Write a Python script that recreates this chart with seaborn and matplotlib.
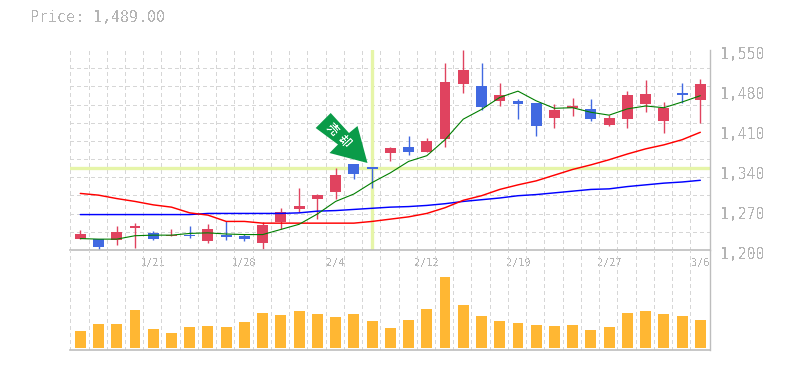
import numpy as np
import pandas as pd
import matplotlib
matplotlib.use('Agg')
import matplotlib.pyplot as plt
import seaborn as sns
from matplotlib.patches import Polygon
from matplotlib.transforms import ScaledTranslation

# Daily candles
candle_up = [1, 0, 1, 1, 0, 1, 0, 1, 0, 0, 1, 1, 1, 1, 1, 0, 0, 1, 0, 1, 1, 1, 0, 1, 0, 0, 1, 1, 0, 1, 1, 1, 1, 0, 1]
body_top = [1228, 1219, 1232, 1242, 1230, 1226, 1226, 1237, 1226, 1225, 1244, 1267, 1277, 1296, 1331, 1351, 1345,
            1379, 1380, 1391, 1494, 1515, 1487, 1471, 1461, 1457, 1445, 1452, 1447, 1431, 1471, 1473, 1449, 1475, 1491]
body_bottom = [1219, 1205, 1218, 1239, 1219, 1225, 1225, 1216, 1223, 1219, 1212, 1249, 1272, 1289, 1302, 1333, 1342,
               1370, 1372, 1372, 1394, 1491, 1450, 1461, 1456, 1417, 1431, 1449, 1429, 1419, 1429, 1456, 1426, 1471, 1462]
wick_top = [1235, 1219, 1242, 1247, 1233, 1237, 1242, 1246, 1250, 1228, 1249, 1274, 1309, 1298, 1344, 1351, 1345,
            1380, 1400, 1396, 1527, 1550, 1527, 1492, 1464, 1457, 1456, 1466, 1464, 1436, 1478, 1498, 1459, 1492, 1499]
wick_bottom = [1219, 1199, 1209, 1204, 1218, 1225, 1221, 1212, 1218, 1216, 1202, 1237, 1267, 1254, 1289, 1324, 1309,
               1356, 1366, 1372, 1380, 1475, 1445, 1452, 1429, 1400, 1414, 1435, 1426, 1417, 1414, 1442, 1405, 1457, 1422]

# Moving averages
ma_short = [1220, 1219, 1219, 1225, 1226, 1226, 1229, 1230, 1228, 1227, 1227, 1236, 1245, 1263, 1285, 1298, 1318,
            1335, 1355, 1365, 1393, 1429, 1446, 1467, 1478, 1461, 1448, 1449, 1441, 1436, 1447, 1452, 1449, 1459, 1470]
ma_mid = [1299, 1296, 1290, 1285, 1279, 1275, 1265, 1261, 1250, 1250, 1247, 1247, 1247, 1247, 1247, 1247, 1250,
          1254, 1258, 1264, 1274, 1287, 1295, 1306, 1314, 1321, 1331, 1341, 1349, 1358, 1368, 1377, 1384, 1393, 1406]
ma_long = [1262, 1262, 1262, 1262, 1262, 1262, 1262, 1264, 1264, 1264, 1264, 1264, 1265, 1268, 1269, 1271, 1273,
           1275, 1276, 1278, 1281, 1285, 1288, 1291, 1295, 1297, 1300, 1303, 1306, 1307, 1311, 1314, 1317, 1319, 1322]

# Volume
volume = [17, 24, 24, 38, 19, 15, 21, 22, 21, 26, 35, 33, 37, 34, 31, 34, 27,
          20, 28, 39, 71, 43, 32, 27, 25, 23, 22, 23, 18, 21, 35, 37, 34, 32, 28]

date_pos = [4, 9, 14, 19, 24, 29, 34]
date_labels = ['1/21', '1/28', '2/4', '2/12', '2/19', '2/27', '3/6']
price_ticks = [1200, 1270, 1340, 1410, 1480, 1550]
price_labels = ['1,200', '1,270', '1,340', '1,410', '1,480', '1,550']
cross_day = 16
cross_price = 1343
title_text = 'Price: 1,489.00'
arrow_chars = ['売', '却']

RED = '#E0435F'
BLUE = '#4169E1'
ORANGE = '#FFB733'
CROSS = '#E6F5A8'
GRID = '#D6D6D6'
BORDER = '#BDBDBD'
TEXT = '#B4B4B4'

sns.set_style('white')
plt.rcParams['font.family'] = ['DejaVu Sans Mono']
plt.rcParams['text.antialiased'] = False

W, H = 785, 370
fig = plt.figure(figsize=(W / 100, H / 100), dpi=100, facecolor='white')


def px_box(x0, y0, x1, y1):
    return [x0 / W, 1 - y1 / H, (x1 - x0) / W, (y1 - y0) / H]


ax = fig.add_axes(px_box(70, 50, 710, 250))
ax_vol = fig.add_axes(px_box(70, 250, 710, 350))

dias = np.arange(len(volume))
xlim = (-0.565, 34.53)
grid_x = dias - 0.55

dados = pd.DataFrame({'dia': dias, 'curta': ma_short, 'media': ma_mid, 'longa': ma_long, 'volume': volume})

# Price panel
for a in (ax, ax_vol):
    a.set_xlim(xlim)
    a.set_xticks(grid_x, minor=True)
    a.grid(True, which='minor', axis='x', color=GRID, linestyle=(0, (3, 3)), linewidth=0.8, antialiased=False)
    a.grid(False, which='major')
    a.set_axisbelow(True)
    a.patch.set_alpha(0)
    for lado in ['top', 'left']:
        a.spines[lado].set_visible(False)
    a.spines['right'].set_color(BORDER)
    a.spines['bottom'].set_color(BORDER)
    a.spines['right'].set_linewidth(1.0)
    a.spines['bottom'].set_linewidth(1.2)

ax.set_ylim(1200, 1550)
ax.set_yticks(np.linspace(1200, 1550, 12), minor=True)
ax.grid(True, which='minor', axis='y', color=GRID, linestyle=(0, (3, 3)), linewidth=0.8, antialiased=False)
ax.axhline(cross_price, color=CROSS, linewidth=2.4, zorder=1)
ax.axvline(cross_day, ymin=0.005, color=CROSS, linewidth=2.4, zorder=1)

cores = [RED if u else BLUE for u in candle_up]
ax.vlines(dias, wick_bottom, wick_top, colors=cores, linewidth=1.0, zorder=2)
ax.bar(dias, np.array(body_top) - np.array(body_bottom), bottom=body_bottom, width=0.6, color=cores,
       linewidth=0, zorder=3)

sns.lineplot(data=dados, x='dia', y='longa', ax=ax, color='#0000FF', linewidth=1.05, zorder=4)
sns.lineplot(data=dados, x='dia', y='media', ax=ax, color='#FF0000', linewidth=1.05, zorder=4)
sns.lineplot(data=dados, x='dia', y='curta', ax=ax, color='#007F00', linewidth=0.8, zorder=4)

ax.set_xlabel('')
ax.set_ylabel('')
ax.set_xticks(date_pos, date_labels)
ax.tick_params(axis='x', which='major', length=0, pad=6, labelsize=7.4, labelcolor=TEXT)
ax.tick_params(axis='both', which='minor', length=0)
ax.yaxis.tick_right()
ax.set_yticks(price_ticks, price_labels)
ax.tick_params(axis='y', which='major', length=0, pad=7, labelsize=10.6, labelcolor=TEXT)
for lab in ax.get_yticklabels():
    lab.set_transform(lab.get_transform() + ScaledTranslation(0, -2.5 / 72, fig.dpi_scale_trans))
ax.set_xlim(xlim)

# Volume panel
sns.barplot(data=dados, x='dia', y='volume', ax=ax_vol, native_scale=True, color=ORANGE, width=0.6,
            saturation=1, linewidth=0, zorder=3)
ax_vol.set_xlim(xlim)
ax_vol.set_ylim(-2, 98)
ax_vol.set_xlabel('')
ax_vol.set_ylabel('')
ax_vol.set_yticks([])
ax_vol.set_xticks([])
ax_vol.set_xticks(grid_x, minor=True)
ax_vol.tick_params(axis='x', which='minor', length=0)

fig.text(30 / W, 1 - 18 / H, title_text, color=TEXT, fontsize=10.8, va='center', ha='left')

# Arrow marker
seta = [(330.7, 113), (349, 133), (357.5, 126), (367.5, 163), (329.5, 153), (338, 144.5), (315.7, 128)]
fig.add_artist(Polygon([(x / W, 1 - y / H) for x, y in seta], closed=True, transform=fig.transFigure,
                       facecolor='#0A9B48', edgecolor='none', zorder=10))
for c, (x, y) in zip(arrow_chars, [(332.5, 129), (343.5, 141)]):
    fig.text(x / W, 1 - y / H, c, color='white', fontsize=8.5, fontweight='bold', rotation=-47,
             ha='center', va='center', rotation_mode='anchor', family=['Noto Sans CJK JP', 'DejaVu Sans'], zorder=11)

fig.savefig('out.png', dpi=100, facecolor='white')
